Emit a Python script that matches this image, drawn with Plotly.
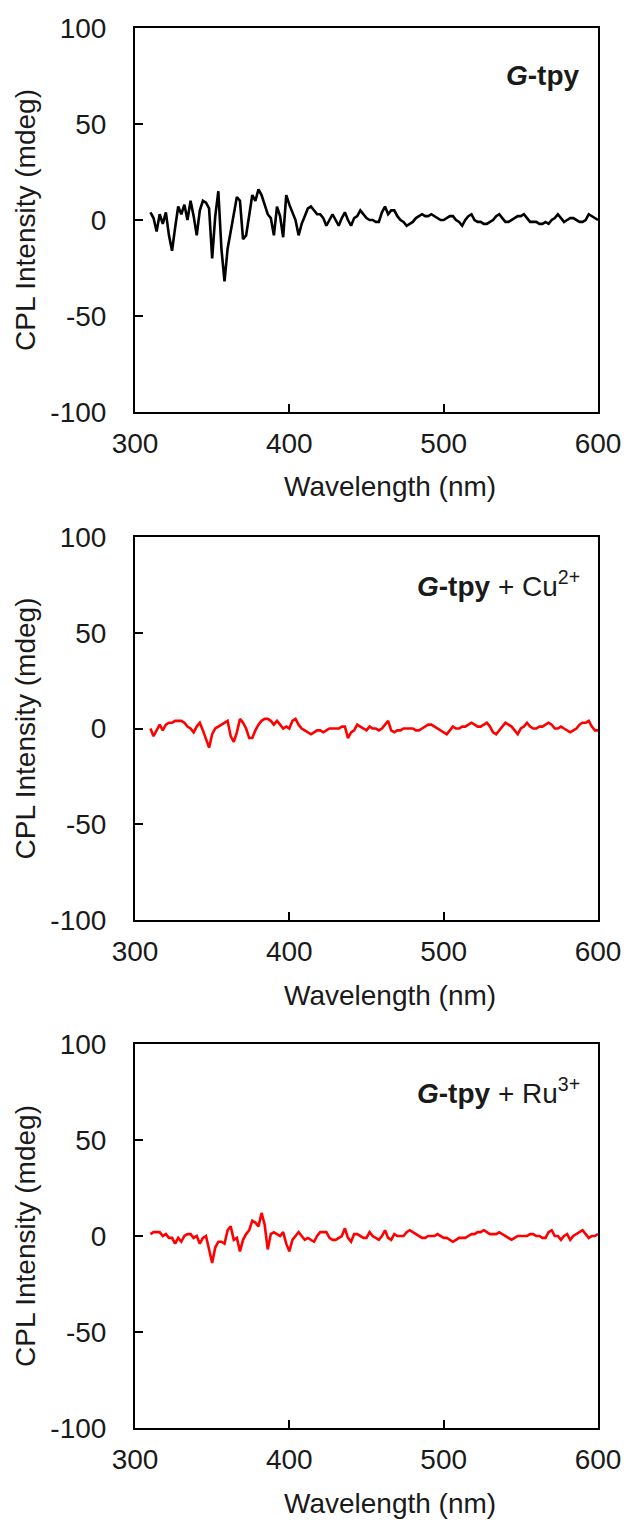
import plotly.graph_objects as go

# Wavelength grid (nm) shared by the three CPL spectra
wavelength = list(range(310, 601, 2))

# CPL intensity (mdeg) of G-tpy
cpl_gtpy = [
    4, 1, -6, 3, -2, 4, -8, -16, -4, 7, 3, 8, 0, 10, 2, -8, 5, 10, 9, 6,
    -20, 2, 15, -15, -32, -15, -6, 4, 12, 10, -10, -8, 3, 13, 10, 16, 13, 8, 3, 1,
    -8, 7, 2, -9, 13, 8, 4, 0, -8, -2, 2, 6, 7, 5, 3, 3, 1, -3, 0, 3,
    0, -3, 1, 4, 0, -3, 1, 2, 5, 3, 1, 0, 0, -1, -1, 4, 7, 3, 5, 5,
    2, 0, -1, -3, -2, -1, 1, 2, 3, 2, 2, 3, 2, 1, 0, 0, 1, 2, 2, 0,
    -1, -3, 0, 2, 3, 0, -1, -1, -2, -2, -1, 0, 2, 3, 1, -1, -1, 0, 1, 2,
    2, 3, 1, -1, -1, -1, -2, -2, -1, -2, 0, 1, 3, 1, -1, 0, 1, 1, 0, -1,
    -1, 0, 3, 2, 1, 0,
]

# CPL intensity (mdeg) of G-tpy + Cu2+
cpl_gtpy_cu = [
    0, -4, -1, 2, -1, 2, 3, 3, 4, 4, 4, 3, 1, 0, -2, 1, 3, -1, -6, -10,
    -3, 0, 1, 2, 3, 4, -4, -7, -2, 5, 3, 0, -5, -5, -1, 2, 4, 5, 5, 4,
    2, 4, 2, 0, 1, 0, 4, 5, 2, 0, -1, -2, -3, -2, -1, -1, -2, -1, 0, 0,
    0, 0, 1, 1, -5, -2, -1, 2, 1, 0, -1, 1, 0, 0, -1, 0, 2, 4, -1, -2,
    -1, -1, 0, 0, 0, 0, -1, -1, 0, 1, 2, 2, 1, 0, -1, -2, -3, -1, 1, 0,
    0, 1, 1, 2, 3, 2, 1, 1, 2, 3, 1, -2, -3, -1, 1, 3, 2, 1, -1, -3,
    0, 1, 3, 1, 0, 0, 1, 1, 2, 3, 2, 0, 0, 1, 0, -1, -2, -1, 0, 2,
    3, 3, 4, 1, -1, -1,
]

# CPL intensity (mdeg) of G-tpy + Ru3+
cpl_gtpy_ru = [
    1, 2, 2, 2, 0, 1, -1, -1, -4, -1, -3, 0, 1, 1, -1, 0, -4, -1, 0, -7,
    -14, -6, -3, -3, -4, 3, 5, -2, -1, -8, -2, 1, 3, 8, 7, 5, 12, 6, -7, 1,
    2, 1, 0, 2, -4, -8, -2, 0, 2, 0, -2, -1, -2, -3, 0, 2, 2, 2, -1, -2,
    -2, -1, 0, 4, -1, -3, 1, 1, 0, -1, -1, 2, 0, -1, -2, 0, 3, -1, -2, 1,
    0, 0, 0, 2, 3, 2, 1, 0, -1, -1, 0, 0, 0, 1, 0, -1, -1, -2, -3, -2,
    -1, -1, -1, 0, 1, 1, 2, 2, 3, 2, 1, 1, 1, 2, 1, 0, -1, -2, -1, 0,
    0, 0, 0, 1, 1, 0, 0, -1, -1, 2, 3, 0, 0, -2, 0, 1, -2, 0, 1, 2,
    3, 1, -1, 0, 0, 1,
]

panel_labels = [
    "<b><i>G</i>-tpy</b>",
    "<b><i>G</i>-tpy</b> + Cu<sup>2+</sup>",
    "<b><i>G</i>-tpy</b> + Ru<sup>3+</sup>",
]
series = [cpl_gtpy, cpl_gtpy_cu, cpl_gtpy_ru]
colors = ["#000000", "#ff0000", "#ff0000"]

x_ticks = [300, 400, 500, 600]
y_ticks = [-100, -50, 0, 50, 100]
y_tick_text = ["-100", "-50", "0", "50", "100"]

W, H = 624, 1524
FONT = "Liberation Sans, Arial, Helvetica, sans-serif"
TEXT = "#1a1a1a"
FS = 28
x_left, x_right = 135, 598
panel_px = [(28, 412), (537, 920), (1044, 1428)]

fig = go.Figure()
annotations = []
layout_axes = {}

for i, (vals, col, lab, (top, bot)) in enumerate(zip(series, colors, panel_labels, panel_px)):
    n = "" if i == 0 else str(i + 1)
    fig.add_trace(go.Scatter(
        x=wavelength, y=vals, mode="lines",
        line=dict(color=col, width=2.6),
        xaxis="x" + n, yaxis="y" + n, showlegend=False,
    ))
    common = dict(
        showline=True, linecolor="black", linewidth=2, mirror=True,
        ticks="inside", ticklen=8, tickwidth=2, tickcolor="black",
        showgrid=False, zeroline=False, automargin=False,
        tickfont=dict(family=FONT, size=FS, color=TEXT),
    )
    layout_axes["xaxis" + n] = dict(
        common, domain=[x_left / W, x_right / W], range=[300, 600],
        tickvals=x_ticks, anchor="y" + n, ticklabelstandoff=5,
    )
    layout_axes["yaxis" + n] = dict(
        common, domain=[1 - bot / H, 1 - top / H], range=[-100, 100],
        tickvals=y_ticks, ticktext=y_tick_text, anchor="x" + n,
        ticklabelstandoff=21,
    )
    mid = (top + bot) / 2
    annotations.append(dict(
        text="Wavelength (nm)", xref="paper", yref="paper",
        x=390 / W, y=1 - (bot + 75) / H, showarrow=False,
        xanchor="center", yanchor="middle",
        font=dict(family=FONT, size=FS, color=TEXT),
    ))
    annotations.append(dict(
        text="CPL Intensity (mdeg)", xref="paper", yref="paper",
        x=25 / W, y=1 - mid / H, showarrow=False, textangle=-90,
        xanchor="center", yanchor="middle",
        font=dict(family=FONT, size=FS, color=TEXT),
    ))
    annotations.append(dict(
        text=lab, xref="paper", yref="paper",
        x=582 / W, y=1 - (top + 47) / H, showarrow=False,
        xanchor="right", yanchor="middle",
        font=dict(family=FONT, size=FS, color=TEXT),
    ))

fig.update_layout(
    width=W, height=H,
    margin=dict(l=0, r=0, t=0, b=0, autoexpand=False),
    paper_bgcolor="white", plot_bgcolor="white",
    annotations=annotations,
    **layout_axes,
)

fig.write_html("out.html")
